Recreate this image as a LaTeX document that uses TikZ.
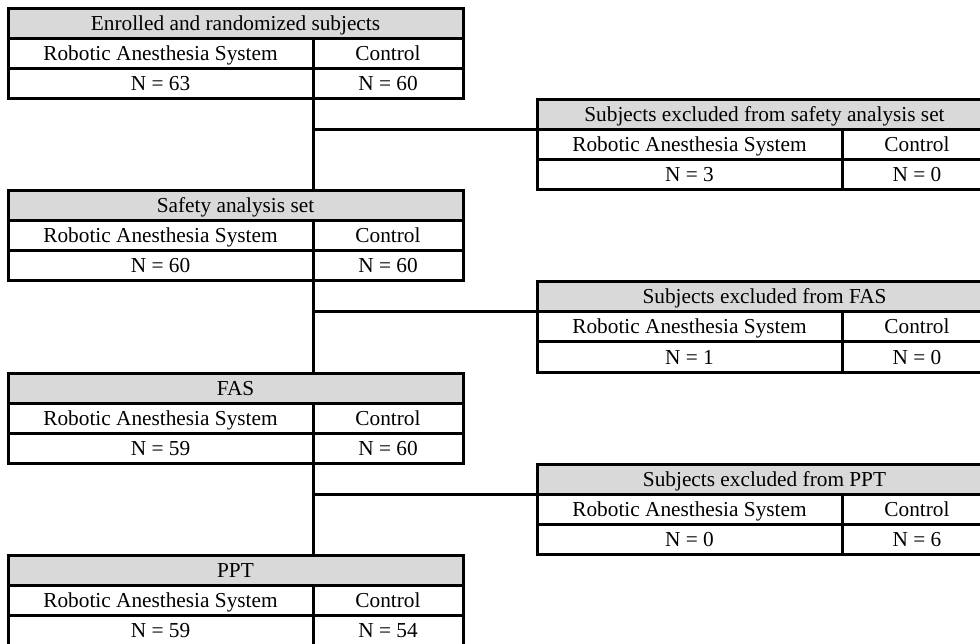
\documentclass[tikz,border=0pt]{standalone}
\usepackage{fontspec}
\setmainfont{Liberation Serif}
\definecolor{hdrgray}{RGB}{217,217,217}
\tikzset{
  cellbox/.style={draw=black, line width=3pt, inner sep=0pt, outer sep=0pt,
    minimum height=30pt, text height=14pt, text depth=0pt,
    anchor=north west, font=\fontsize{21.3}{24}\selectfont},
  hdrbox/.style={cellbox, fill=hdrgray, minimum width=455pt},
  widecell/.style={minimum width=305pt},
  narrowcell/.style={minimum width=150pt},
  conn/.style={draw=black, line width=3pt}
}
\newcommand\flowtab[6]{%
  \node[hdrbox] (#1h) at (#2,#3) {#4};
  \node[cellbox,widecell] (#1ra) at (#1h.south west) {Robotic Anesthesia System};
  \node[cellbox,narrowcell] (#1rc) at (#1ra.north east) {Control};
  \node[cellbox,widecell] (#1na) at (#1ra.south west) {N = #5};
  \node[cellbox,narrowcell] (#1nc) at (#1na.north east) {N = #6};
}
\begin{document}
\begin{tikzpicture}[x=1pt,y=-1pt]
  \clip (0,0) rectangle (980,644);
  \fill[white] (0,0) rectangle (980,644);
  \flowtab{b1}{8}{9}{Enrolled and randomized subjects}{63}{60}
  \flowtab{b2}{8}{191}{Safety analysis set}{60}{60}
  \flowtab{b3}{8}{373}{FAS}{59}{60}
  \flowtab{b4}{8}{555}{PPT}{59}{54}
  \flowtab{r1}{537}{100}{Subjects excluded from safety analysis set}{3}{0}
  \flowtab{r2}{537}{282}{Subjects excluded from FAS}{1}{0}
  \flowtab{r3}{537}{464}{Subjects excluded from PPT}{0}{6}
  \draw[conn] (b1nc.south west) -- (b1nc.south west |- b2h.north);
  \draw[conn] (b1nc.south west |- r1h.south) -- (r1h.south west);
  \draw[conn] (b2nc.south west) -- (b2nc.south west |- b3h.north);
  \draw[conn] (b2nc.south west |- r2h.south) -- (r2h.south west);
  \draw[conn] (b3nc.south west) -- (b3nc.south west |- b4h.north);
  \draw[conn] (b3nc.south west |- r3h.south) -- (r3h.south west);
\end{tikzpicture}
\end{document}
